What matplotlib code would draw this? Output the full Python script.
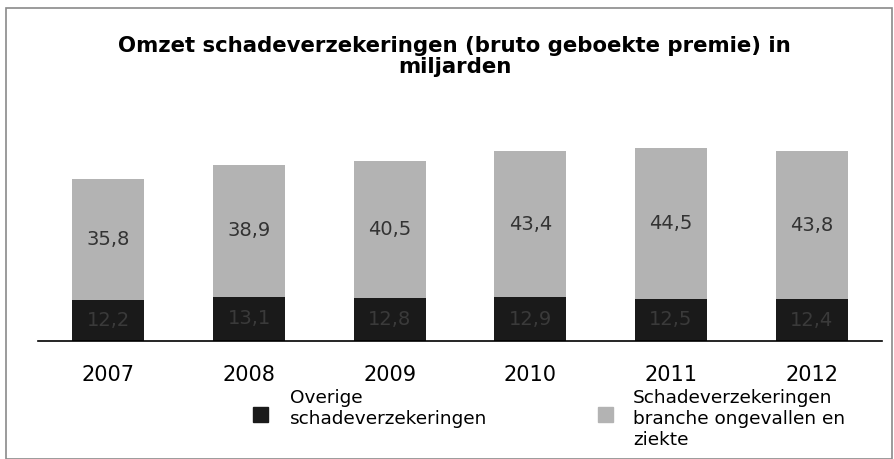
import matplotlib.pyplot as plt
from matplotlib.patches import Rectangle

jaren = ['2007', '2008', '2009', '2010', '2011', '2012']
overige = [12.2, 13.1, 12.8, 12.9, 12.5, 12.4]
ongevallen_ziekte = [35.8, 38.9, 40.5, 43.4, 44.5, 43.8]
reeksen = ['Overige\nschadeverzekeringen',
           'Schadeverzekeringen\nbranche ongevallen en\nziekte']

plt.rcParams['font.family'] = ['DejaVu Sans']

fig = plt.figure(figsize=(8.94, 4.59), dpi=100)
W, H = 894, 459

# kader rond de grafiek
fig.patches.append(Rectangle((6 / W, 0), 886 / W, 451 / H, transform=fig.transFigure,
                             fill=False, edgecolor='#8a8a8a', linewidth=1.2))

ax = fig.add_axes([38 / W, (H - 341) / H, 844 / W, 241 / H])
x = range(len(jaren))
donker = ax.bar(x, overige, width=0.51, color='#1a1a1a', label=reeksen[0])
licht = ax.bar(x, ongevallen_ziekte, width=0.51, bottom=overige, color='#b3b3b3',
               label=reeksen[1])

for i in x:
    ax.text(i, overige[i] / 2, f'{overige[i]:.1f}'.replace('.', ','), ha='center',
            va='center', fontsize=14, color='#3a3a3a')
    ax.text(i, overige[i] + ongevallen_ziekte[i] / 2,
            f'{ongevallen_ziekte[i]:.1f}'.replace('.', ','), ha='center', va='center',
            fontsize=14, color='#333333')

ax.set_xlim(-0.5, 5.5)
ax.set_ylim(0, 71.3)
ax.set_xticks(list(x))
ax.set_xticklabels(jaren, fontsize=15)
ax.tick_params(axis='x', length=0, pad=17.5)
ax.set_yticks([])
for s in ['top', 'right', 'left']:
    ax.spines[s].set_visible(False)
ax.spines['bottom'].set_linewidth(1.2)

fig.text(454.5 / W, 1 - 56.5 / H,
         'Omzet schadeverzekeringen (bruto geboekte premie) in\nmiljarden',
         ha='center', va='center', fontsize=15.3, fontweight='bold', linespacing=1.1)

# legenda
fig.patches.append(Rectangle((253 / W, 1 - 422 / H), 15 / W, 15 / H,
                             transform=fig.transFigure, color='#1a1a1a'))
fig.text(290 / W, 1 - 389 / H, reeksen[0], ha='left', va='top', fontsize=13.3,
         linespacing=1.2)
fig.patches.append(Rectangle((598 / W, 1 - 422 / H), 15 / W, 15 / H,
                             transform=fig.transFigure, color='#b3b3b3'))
fig.text(633 / W, 1 - 389 / H, reeksen[1], ha='left', va='top', fontsize=13.3,
         linespacing=1.2)

fig.savefig('out.png', dpi=100)
